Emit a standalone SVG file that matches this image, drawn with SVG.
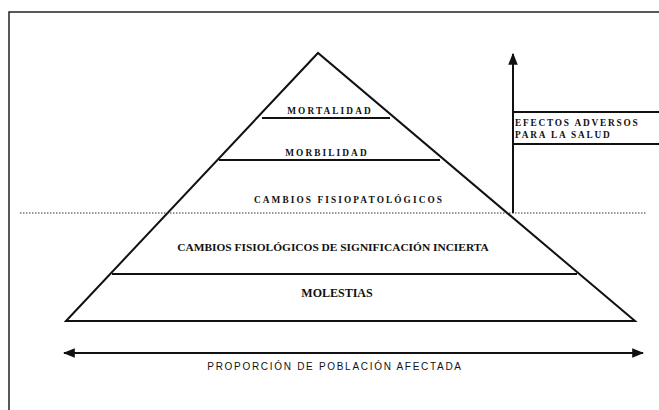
<svg xmlns="http://www.w3.org/2000/svg" width="659" height="410" viewBox="0 0 659 410">
<style>
.ln{stroke:#111;stroke-width:2;fill:none}
.sp{font-family:"Liberation Serif",serif;font-weight:bold;font-size:9.3px;fill:#111;letter-spacing:2.1px;text-anchor:middle}
.tx{font-family:"Liberation Serif",serif;font-weight:bold;font-size:11.4px;fill:#111;text-anchor:middle}
.ax{font-family:"Liberation Sans",sans-serif;font-size:10px;fill:#111;letter-spacing:1.7px;text-anchor:middle}
</style>
<defs>
<marker id="ah" viewBox="0 0 10 10" refX="9" refY="5" markerWidth="6" markerHeight="6" orient="auto-start-reverse"><path d="M0,1 L10,5 L0,9 z" fill="#111"/></marker>
</defs>
<rect width="659" height="410" fill="#fff"/>
<path d="M9,410 V12 H659" stroke="#222" stroke-width="1.5" fill="none"/>
<g id="pyramid">
<path class="ln" d="M66,321 L318,53 L635,321 Z"/>
</g>
<g id="mortalidad">
<line class="ln" x1="262" y1="118" x2="390" y2="118"/>
<text class="sp" x="330" y="114">MORTALIDAD</text>
</g>
<g id="morbilidad">
<line class="ln" x1="219" y1="160" x2="440" y2="160"/>
<text class="sp" x="327" y="156">MORBILIDAD</text>
</g>
<g id="fisiopatologicos">
<text class="sp" x="349" y="203">CAMBIOS FISIOPATOLÓGICOS</text>
</g>
<g id="fisiologicos">
<line class="ln" x1="112" y1="274" x2="577" y2="274"/>
<text class="tx" x="333" y="251">CAMBIOS FISIOLÓGICOS DE SIGNIFICACIÓN INCIERTA</text>
</g>
<g id="molestias">
<text class="tx" x="337" y="297" style="font-size:12px">MOLESTIAS</text>
</g>
<g id="efectos">
<path class="ln" d="M659,112 H513 M513,144 H659" stroke-width="1.8"/>
<text class="sp" x="515" y="126" style="text-anchor:start;letter-spacing:1.8px">EFECTOS ADVERSOS</text>
<text class="sp" x="515" y="138" style="text-anchor:start;letter-spacing:1.8px">PARA LA SALUD</text>
</g>
<g id="connectors">
<line x1="20" y1="213" x2="647" y2="213" stroke="#333" stroke-width="1.2" stroke-dasharray="1.5,1.5"/>
<line class="ln" x1="513" y1="213" x2="513" y2="54" marker-end="url(#ah)" stroke-width="1.8"/>
<line class="ln" x1="64" y1="353" x2="643" y2="353" marker-start="url(#ah)" marker-end="url(#ah)" stroke-width="1.8"/>
</g>
<g id="axis-label">
<text class="ax" x="335" y="370">PROPORCIÓN DE POBLACIÓN AFECTADA</text>
</g>
</svg>
